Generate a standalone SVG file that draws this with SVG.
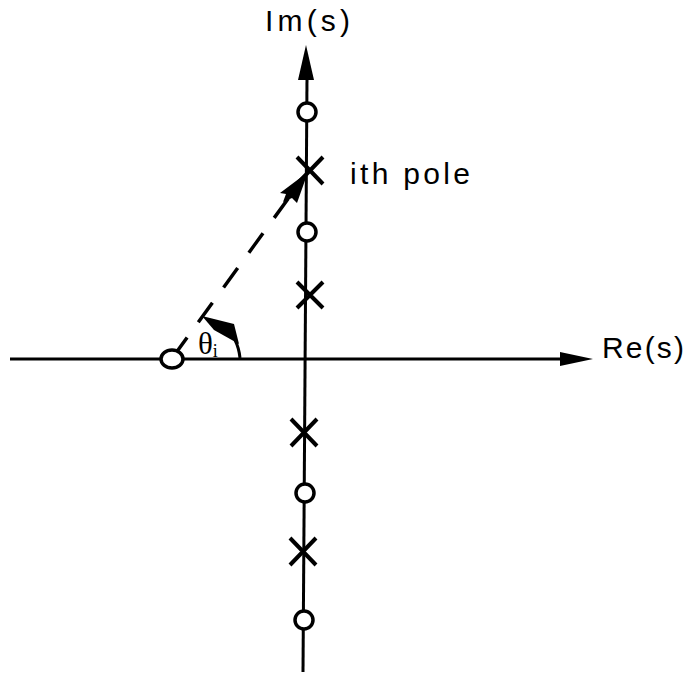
<svg xmlns="http://www.w3.org/2000/svg" width="686" height="675" viewBox="0 0 686 675">
<style>
.ax{stroke:#000;stroke-width:3;fill:none}
.zero{stroke:#000;stroke-width:3.5;fill:#fff}
.pole{stroke:#000;stroke-width:4;fill:none;stroke-linecap:butt}
.lbl{font-family:"Liberation Sans",Arial,sans-serif;font-size:30px;fill:#000}
</style>
<rect width="686" height="675" fill="#fff"/>
<g id="connectors">
<line class="ax" x1="10" y1="359" x2="562" y2="359"/>
<polygon points="593,359 560,352 560,366" fill="#000"/>
<line class="ax" x1="307" y1="78" x2="303" y2="672"/>
<polygon points="306,45 298,80 314,80" fill="#000"/>
<line x1="173" y1="357" x2="293" y2="192" stroke="#000" stroke-width="3.5" stroke-dasharray="24 19"/>
<polygon points="308,172 280,193 286,194 283,202 292,198 297,203" fill="#000"/>
<path d="M240,358 Q239,348 235,340" class="ax"/>
<polygon points="202,316 214,319 234,324 239,344 214,330" fill="#000"/>
</g>
<g id="zero-real"><ellipse class="zero" cx="172" cy="359" rx="11" ry="9"/></g>
<g id="zero1"><circle class="zero" cx="307" cy="112" r="9"/></g>
<g id="zero2"><circle class="zero" cx="307" cy="232" r="9"/></g>
<g id="zero3"><circle class="zero" cx="305" cy="493" r="9"/></g>
<g id="zero4"><circle class="zero" cx="304" cy="620" r="9"/></g>
<g id="pole1"><path class="pole" d="M297,157 L323,184 M323,157 L297,184"/></g>
<g id="pole2"><path class="pole" d="M297,282 L323,308 M323,282 L297,308"/></g>
<g id="pole3"><path class="pole" d="M291,419 L317,446 M317,419 L291,446"/></g>
<g id="pole4"><path class="pole" d="M290,538 L316,565 M316,538 L290,565"/></g>
<g id="labels">
<text class="lbl" x="265" y="31" textLength="85" lengthAdjust="spacing">Im(s)</text>
<text class="lbl" x="350" y="184" textLength="120" lengthAdjust="spacing">ith pole</text>
<text class="lbl" x="602" y="358" textLength="82" lengthAdjust="spacing">Re(s)</text>
<text x="198" y="354" font-family="Liberation Serif,'Times New Roman',serif" font-size="31" fill="#000">θ<tspan font-size="18" dy="3">i</tspan></text>
</g>
</svg>
